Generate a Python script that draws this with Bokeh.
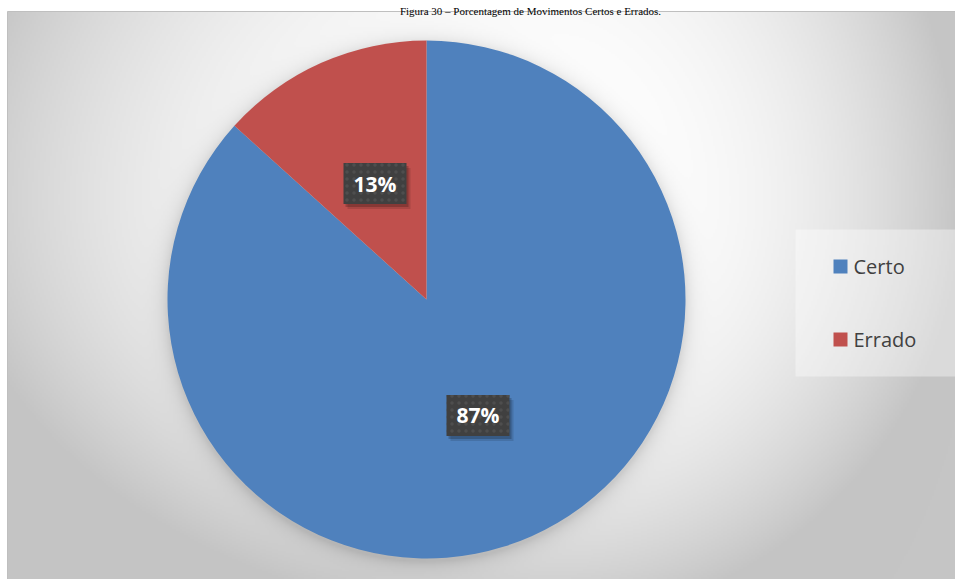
import numpy as np
from bokeh.plotting import figure
from bokeh.models import Range1d, ColumnDataSource
from bokeh.core.properties import value
from bokeh.transform import dodge
from bokeh.embed import file_html
from bokeh.resources import INLINE

# ---------------- data ----------------
categories = ["Certo", "Errado"]
values = [86.7, 13.3]
colors = ["#4F81BD", "#C0504D"]
title_text = "Figura 30 – Porcentagem de Movimentos Certos e Errados."

# ---------------- layout ----------------
W, H = 955, 579
OX, OY = 0, 0          # page position of the figure's top-left corner


def fx(px):
    return px - OX


def fy(py):
    return H - (py - OY)


PIE_CX, PIE_CY, PIE_R = 426, 299, 259

p = figure(width=W, height=H, x_range=Range1d(0, W), y_range=Range1d(0, H),
           output_backend="svg", toolbar_location=None, min_border=0,
           outline_line_color=None)
p.axis.visible = False
p.grid.visible = False
p.background_fill_color = "white"
p.border_fill_color = "white"

# ---------------- background gradient (chart area) ----------------
AX0, AY0, AX1, AY1 = 7, 11, 955, 579
step = 2
nx = (AX1 - AX0) // step
ny = (AY1 - AY0) // step
px = AX0 + (np.arange(nx) + 0.5) * step
py = AY0 + (np.arange(ny) + 0.5) * step
PX, PY = np.meshgrid(px, py)
gcx, gcy = 540.0, 200.0
dx = PX - gcx
dy = PY - gcy
rx = np.where(dx < 0, 590.0, 420.0)
ry = np.where(dy < 0, 500.0, 420.0)
r = np.clip(np.sqrt((dx / rx) ** 2 + (dy / ry) ** 2), 0, 1)
b = 255.0 - 58.0 * r ** 2.5
# soft shadow of the pie
d = np.sqrt((PX - PIE_CX) ** 2 + (PY - (PIE_CY + 3)) ** 2) - PIE_R
shadow = np.where(d > 0, 30.0 * np.exp(-d / 8.0), 30.0)
b = np.clip(b - shadow, 0, 255).astype(np.uint32)
img = (np.uint32(255) << 24) | (b << 16) | (b << 8) | b
img = np.flipud(img).astype(np.uint32)
p.image_rgba(image=[img], x=fx(AX0), y=fy(AY1), dw=AX1 - AX0, dh=AY1 - AY0)

# chart border
p.quad(left=[fx(AX0)], right=[fx(AX1)], bottom=[fy(AY1)], top=[fy(AY0)],
       fill_color=None, line_color="#BFBFBF", line_width=1)

# title
p.text(x=[fx(530)], y=[fy(10)], text=[title_text], text_align="center",
       text_baseline="alphabetic", text_font=value("Liberation Serif"),
       text_font_size="11px", text_color="#000000")

# ---------------- pie ----------------
vals = np.array(values, dtype=float)
frac = vals / vals.sum()
cum = np.cumsum(frac)
prev = np.concatenate([[0.0], cum[:-1]])
start = np.pi / 2 - 2 * np.pi * prev
end = np.pi / 2 - 2 * np.pi * cum
mid = (start + end) / 2
labels = [f"{round(f * 100):.0f}%" for f in frac]

cxf, cyf = fx(PIE_CX), fy(PIE_CY)
src = ColumnDataSource(dict(cat=categories, start=start, end=end, color=colors,
                            lx=cxf + 0.49 * PIE_R * np.cos(mid),
                            ly=cyf + 0.49 * PIE_R * np.sin(mid),
                            label=labels))
p.wedge(x=cxf, y=cyf, radius=PIE_R, radius_units="screen", start_angle="start",
        end_angle="end", direction="clock", fill_color="color", line_color=None,
        source=src)

# data label boxes with shadow
p.rect(x=dodge("lx", 4), y=dodge("ly", -5), width=63, height=41, width_units="screen",
       height_units="screen", fill_color="#000000",
       fill_alpha=0.12, line_color=None, source=src)
p.rect(x=dodge("lx", 2), y=dodge("ly", -3), width=63, height=41, width_units="screen",
       height_units="screen", fill_color="#000000",
       fill_alpha=0.2, line_color=None, source=src)
p.rect(x="lx", y="ly", width=63, height=41, width_units="screen",
       height_units="screen", fill_color="#404040", line_color=None,
       hatch_pattern="dot", hatch_color="#4E4E4E", hatch_scale=7,
       hatch_weight=1.5, source=src)
p.text(x="lx", y="ly", text="label", text_align="center", text_baseline="middle",
       text_font=value("Open Sans"), text_font_style="bold",
       text_font_size="21px", text_color="#FFFFFF", source=src)

# ---------------- legend ----------------
LX0, LY0, LX1, LY1 = 795, 229, 955, 376
p.quad(left=[fx(LX0)], right=[fx(LX1)], bottom=[fy(LY1)], top=[fy(LY0)],
       fill_color="#FFFFFF", fill_alpha=0.38, line_color=None)
leg_y = [fy(266 + 73 * i) for i in range(len(categories))]
leg = ColumnDataSource(dict(x=[fx(840)] * len(categories), tx=[fx(853)] * len(categories),
                            y=leg_y, cat=categories, color=colors))
p.scatter(x="x", y="y", marker="square", size=14, fill_color="color",
          line_color=None, source=leg)
p.text(x="tx", y="y", text="cat", text_align="left", text_baseline="middle",
       text_font=value("Open Sans"), text_font_size="20px",
       text_color="#404040", source=leg)

open("out.html", "w").write(file_html(p, INLINE))
